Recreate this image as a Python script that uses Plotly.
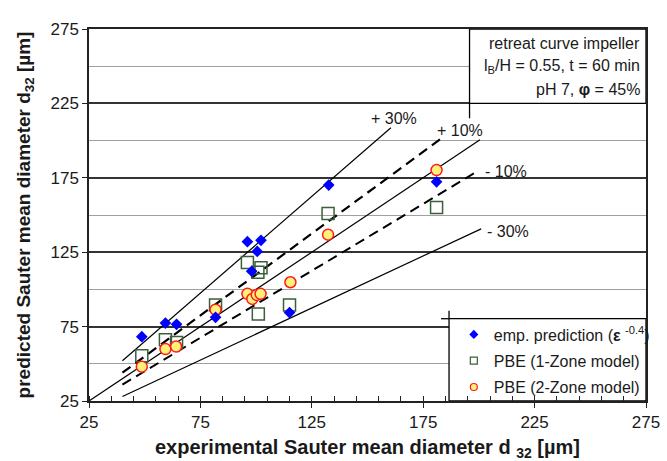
import plotly.graph_objects as go

# ---- data ----
emp_x = [48.7, 59.3, 64.3, 81.8, 96.1, 102.2, 100.5, 98.0, 115.0, 132.6, 181.0]
emp_y = [68.2, 77.4, 76.5, 81.2, 132.1, 133.0, 125.5, 112.2, 84.4, 170.1, 172.3]

pbe1_x = [48.7, 59.3, 64.3, 81.8, 96.1, 102.2, 100.8, 101.0, 115.0, 132.3, 181.0]
pbe1_y = [55.4, 66.2, 64.3, 89.6, 118.1, 114.5, 111.6, 83.5, 89.6, 151.0, 155.0]

pbe2_x = [48.7, 59.3, 64.1, 81.8, 96.1, 98.3, 100.3, 102.0, 115.4, 132.3, 181.0]
pbe2_y = [48.1, 59.9, 61.6, 86.4, 97.0, 93.6, 96.3, 97.0, 104.8, 136.8, 180.2]

# deviation lines y = k * x
dev_factor = [1.3, 1.1, 1.0, 0.9, 0.7]
dev_x_start = [40, 40, 25, 40, 40]
dev_x_end = [160.5, 183.5, 200.5, 200, 201]
dev_dash = ["solid", "10px,6px", "solid", "10px,6px", "solid"]
dev_width = [1.2, 2.2, 1.2, 2.0, 1.2]

dev_labels = ["+ 30%", "+ 10%", "- 10%", "- 30%"]
dev_label_x = [150.5, 180.4, 201.8, 202.7]
dev_label_y = [214.6, 206.5, 179.5, 139.0]

info_lines = ["retreat curve impeller",
              "l<sub>B</sub>/H = 0.55, t = 60 min",
              "pH 7, <b>φ</b> = 45%"]
info_y = [265.2, 249.9, 234.6]

FONT = "Arial, Liberation Sans, sans-serif"
TXT = "#1a1a1a"

fig = go.Figure()

for k, xs, xe, d, w in zip(dev_factor, dev_x_start, dev_x_end, dev_dash, dev_width):
    fig.add_trace(go.Scatter(x=[xs, xe], y=[k * xs, k * xe], mode="lines",
                             line=dict(color="black", width=w, dash=d),
                             showlegend=False, hoverinfo="skip"))

fig.add_trace(go.Scatter(x=pbe1_x, y=pbe1_y, mode="markers",
                         marker=dict(symbol="square-open", size=12,
                                     color="#3b5e3b", line=dict(width=1.5)),
                         showlegend=False))
fig.add_trace(go.Scatter(x=pbe2_x, y=pbe2_y, mode="markers",
                         marker=dict(symbol="circle", size=11, color="#fff27a",
                                     line=dict(color="#ff1a1a", width=1.5)),
                         showlegend=False))
fig.add_trace(go.Scatter(x=emp_x, y=emp_y, mode="markers",
                         marker=dict(symbol="diamond", size=9, color="#0000ff",
                                     line=dict(width=0)),
                         showlegend=False))

# legend entries
fig.add_trace(go.Scatter(x=[None], y=[None], mode="markers",
                         name="emp. prediction (<b>ε</b> <sup>-0.4</sup>)",
                         marker=dict(symbol="diamond", size=7, color="#0000ff"),
                         legendgroup="a"))
fig.add_trace(go.Scatter(x=[None], y=[None], mode="markers",
                         name="PBE (1-Zone model)",
                         marker=dict(symbol="square-open", size=7, color="#3b5e3b",
                                     line=dict(width=1.2)),
                         legendgroup="b"))
fig.add_trace(go.Scatter(x=[None], y=[None], mode="markers",
                         name="PBE (2-Zone model)",
                         marker=dict(symbol="circle", size=7, color="#fff27a",
                                     line=dict(color="#ff1a1a", width=1.2)),
                         legendgroup="c"))

shapes = [
    # info box
    dict(type="rect", xref="x", yref="y", x0=195.8, x1=275, y0=225, y1=275,
         fillcolor="white", line=dict(color="black", width=1.3), layer="between"),
    dict(type="line", xref="x", yref="y", x0=195.8, x1=195.8, y0=215, y1=225,
         line=dict(color="black", width=1.3), layer="between"),
    # legend box
    dict(type="rect", xref="x", yref="y", x0=186.6, x1=275, y0=25, y1=80.3,
         fillcolor="white", line=dict(color="black", width=1.3), layer="between"),
    dict(type="line", xref="x", yref="y", x0=183.0, x1=186.6, y0=80.3, y1=80.3,
         line=dict(color="black", width=1.3), layer="between"),
    dict(type="line", xref="x", yref="y", x0=186.6, x1=186.6, y0=80.3, y1=85.7,
         line=dict(color="black", width=1.3), layer="between"),
]

annotations = []
for t, x, y in zip(dev_labels, dev_label_x, dev_label_y):
    annotations.append(dict(x=x, y=y, xref="x", yref="y", text=t, showarrow=False,
                            xanchor="left", yanchor="middle",
                            font=dict(family=FONT, size=16, color=TXT)))
for t, y in zip(info_lines, info_y):
    annotations.append(dict(x=1, y=y, xref="paper", yref="y", text=t, showarrow=False,
                            xanchor="right", yanchor="middle", xshift=-4,
                            font=dict(family=FONT, size=16, color=TXT)))

fig.update_layout(
    width=667, height=461,
    margin=dict(l=89, r=18, t=29, b=60),
    paper_bgcolor="white", plot_bgcolor="white",
    font=dict(family=FONT, color=TXT),
    shapes=shapes, annotations=annotations,
    showlegend=True,
    legend=dict(x=0.655, y=0.2245, xanchor="left", yanchor="top",
                bgcolor="rgba(0,0,0,0)", borderwidth=0, tracegroupgap=2.5,
                font=dict(family=FONT, size=16, color=TXT)),
    xaxis=dict(range=[25, 275], tickmode="linear", tick0=25, dtick=50,
               showgrid=False, zeroline=False, automargin=False,
               showline=True, linecolor="#222", linewidth=1.5, mirror=True,
               ticks="outside", ticklen=5, tickwidth=1.3, tickcolor="#222",
               tickfont=dict(family=FONT, size=17, color=TXT),
               minor=dict(tickmode="linear", tick0=25, dtick=10, ticks="inside",
                          ticklen=5, tickwidth=1, tickcolor="#222", showgrid=False),
               title=dict(text="<b>experimental Sauter mean diameter d <sub>32</sub> [µm]</b>",
                          font=dict(family=FONT, size=20, color=TXT))),
    yaxis=dict(range=[25, 275], tickmode="linear", tick0=25, dtick=50,
               showgrid=True, gridcolor="#333", gridwidth=1.5, zeroline=False,
               automargin=False,
               showline=True, linecolor="#222", linewidth=1.5, mirror=True,
               ticks="outside", ticklen=5, tickwidth=1.3, tickcolor="#222",
               tickfont=dict(family=FONT, size=17, color=TXT),
               minor=dict(tickmode="linear", tick0=25, dtick=25, ticks="",
                          showgrid=True, gridcolor="#a0a0a0", gridwidth=1),
               title=dict(text="<b>predicted Sauter mean diameter d<sub>32</sub> [µm]</b>",
                          font=dict(family=FONT, size=19, color=TXT))),
)

fig.write_html("out.html")
